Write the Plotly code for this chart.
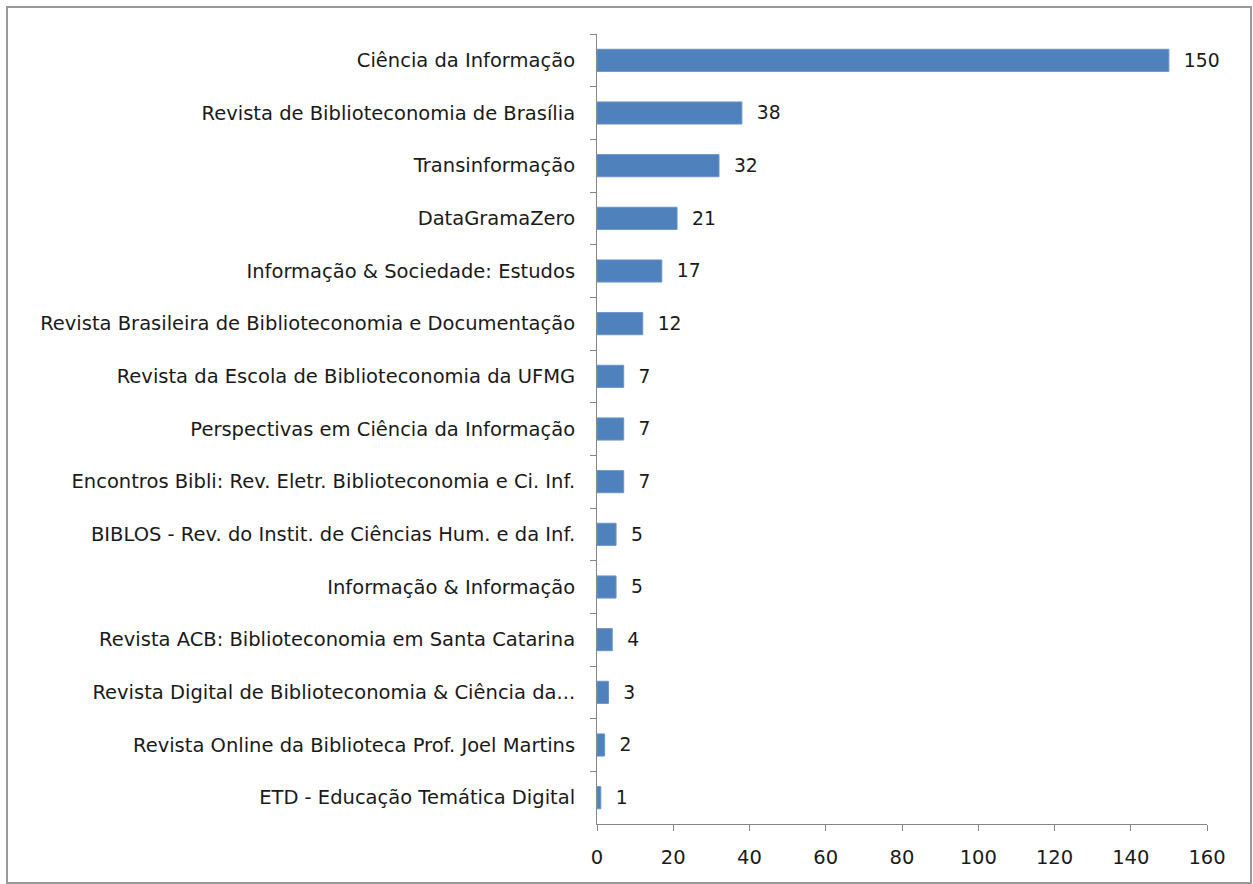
import plotly.graph_objects as go

categories = [
    "Ciência da Informação",
    "Revista de Biblioteconomia de Brasília",
    "Transinformação",
    "DataGramaZero",
    "Informação & Sociedade: Estudos",
    "Revista Brasileira de Biblioteconomia e Documentação",
    "Revista da Escola de Biblioteconomia da UFMG",
    "Perspectivas em Ciência da Informação",
    "Encontros Bibli: Rev. Eletr. Biblioteconomia e Ci. Inf.",
    "BIBLOS - Rev. do Instit. de Ciências Hum. e da Inf.",
    "Informação & Informação",
    "Revista ACB: Biblioteconomia em Santa Catarina",
    "Revista Digital de Biblioteconomia & Ciência da...",
    "Revista Online da Biblioteca Prof. Joel Martins",
    "ETD - Educação Temática Digital",
]
values = [150, 38, 32, 21, 17, 12, 7, 7, 7, 5, 5, 4, 3, 2, 1]
x_ticks = [0, 20, 40, 60, 80, 100, 120, 140, 160]

W, H = 1253, 884
L, R, T, B = 597, 1207, 34, 824

FONT = "DejaVu Sans"
FS = 19.5
TXT = "#1a1a1a"
AX = "#868686"

fig = go.Figure(go.Bar(
    x=values,
    y=categories,
    orientation="h",
    marker=dict(color="#4F81BD", line=dict(color="#6a95c9", width=1)),
    text=values,
    texttemplate="  %{x}",
    textposition="outside",
    cliponaxis=False,
    textfont=dict(family=FONT, size=FS, color=TXT),
    width=0.42,
))

fig.update_layout(
    width=W, height=H,
    margin=dict(l=L, r=W - R, t=T, b=H - B, pad=0),
    paper_bgcolor="white", plot_bgcolor="white",
    showlegend=False,
    font=dict(family=FONT, size=FS, color=TXT),
    xaxis=dict(
        range=[0, 160], tickvals=x_ticks, ticks="outside", ticklen=6,
        tickcolor=AX, showline=True, linecolor=AX, linewidth=1,
        showgrid=False, zeroline=False, fixedrange=True,
        ticklabelstandoff=10,
        tickfont=dict(family=FONT, size=FS, color=TXT),
    ),
    yaxis=dict(
        autorange="reversed", ticks="outside", ticklen=6, tickcolor=AX,
        tickson="boundaries", showline=True, linecolor=AX, linewidth=1,
        showgrid=False, zeroline=False, fixedrange=True,
        ticklabelstandoff=17,
        tickfont=dict(family=FONT, size=FS, color=TXT),
    ),
    shapes=[dict(
        type="rect", xref="paper", yref="paper",
        x0=(7 - L) / (R - L), x1=(1251 - L) / (R - L),
        y0=(B - 883) / (B - T), y1=(B - 7) / (B - T),
        line=dict(color="#9a9a9a", width=2), fillcolor="rgba(0,0,0,0)",
        layer="below",
    )],
)

fig.write_html("out.html")
